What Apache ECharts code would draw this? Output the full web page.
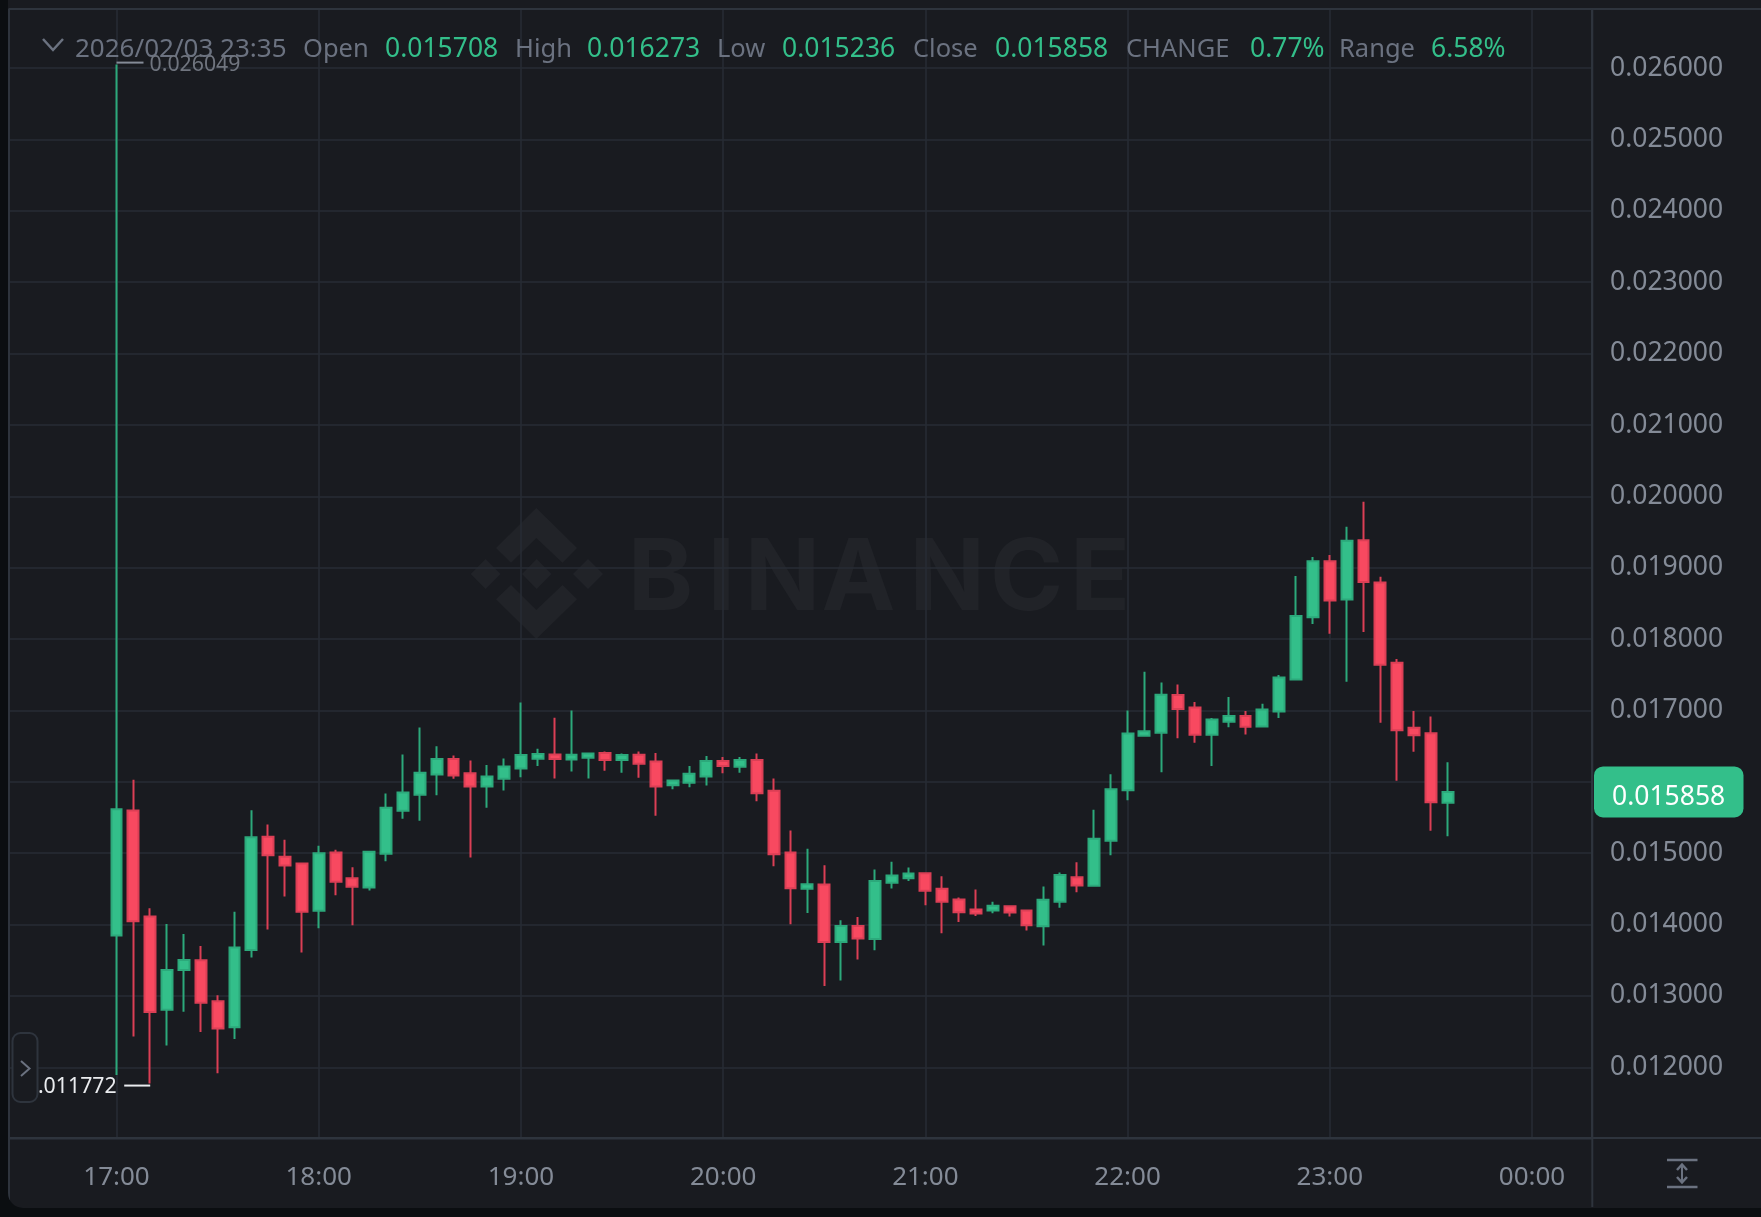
<!DOCTYPE html>
<html><head><meta charset="utf-8">
<style>html,body{margin:0;padding:0;background:#0b0e11}#c{width:1761px;height:1217px}</style>
<script src="https://cdn.jsdelivr.net/npm/echarts@6/dist/echarts.min.js"></script>
</head><body><div id="c"></div>
<script>
var leadIn=['16:30','16:35','16:40','16:45','16:50','16:55'];
var times=['17:00','17:05','17:10','17:15','17:20','17:25','17:30','17:35','17:40','17:45','17:50','17:55',
'18:00','18:05','18:10','18:15','18:20','18:25','18:30','18:35','18:40','18:45','18:50','18:55',
'19:00','19:05','19:10','19:15','19:20','19:25','19:30','19:35','19:40','19:45','19:50','19:55',
'20:00','20:05','20:10','20:15','20:20','20:25','20:30','20:35','20:40','20:45','20:50','20:55',
'21:00','21:05','21:10','21:15','21:20','21:25','21:30','21:35','21:40','21:45','21:50','21:55',
'22:00','22:05','22:10','22:15','22:20','22:25','22:30','22:35','22:40','22:45','22:50','22:55',
'23:00','23:05','23:10','23:15','23:20','23:25','23:30','23:35'];
var leadOut=['23:40','23:45','23:50','23:55','00:00','00:05','00:10','00:15'];
var opens=[.013846,.015598,.014112,.012808,.013364,.0135,.012925,.012561,.013645,.015229,.014949,.014855,.014192,.015009,.01465,.014519,.014991,
.015593,.015818,.016103,.016318,.016121,.015935,.016042,.016187,.016322,.016383,.016313,.016336,.016402,.016304,.016378,.016285,.015953,.015986,.016075,.01629,.01621,.016304,.015874,.015009,.0145,.014561,
.013757,.013981,.013799,.014584,.01465,.01472,.0145,.01435,.01421,.014196,.014257,.014196,.013977,.014318,.014664,.014542,.015173,.015883,
.016645,.016687,.017215,.017042,.016659,.016841,.016921,.016776,.016986,.017435,.018304,.019089,.018556,.019383,.018794,.017668,.016757,.016682,.015708];
var closes=[.015617,.014047,.012776,.013364,.013505,.012906,.012542,.013678,.015224,.014972,.014827,.014178,.015,.014598,.014528,.015019,.015636,
.01585,.016126,.016318,.016089,.015935,.016075,.016215,.016374,.016388,.016318,.016378,.016397,.016304,.016374,.016252,.015935,.016019,.016112,.01629,.01622,.016304,.015841,.014986,.014509,.014565,.013757,
.013981,.013804,.014612,.014687,.014715,.014472,.014318,.014173,.014154,.014262,.014168,.013991,.014346,.014696,.014547,.015201,.015897,.016678,
.01671,.01722,.017019,.016659,.016874,.016921,.016771,.017014,.017463,.018322,.019089,.018542,.019379,.018799,.01764,.016724,.016654,.015715,.015858];
var lows=[.011892,.01243,.011772,.012304,.01278,.012495,.011916,.012397,.013537,.01393,.014392,.013607,.013949,.014411,.013991,.014477,.014888,
.015481,.015453,.015813,.016042,.014939,.015635,.015878,.016065,.01622,.016047,.016145,.016047,.016154,.016126,.016056,.015523,.015897,.015925,.015949,.016121,.016126,.015729,.014818,.014005,.014163,.01314,
.013215,.013509,.01364,.014505,.014612,.014271,.013879,.014037,.014121,.014159,.014112,.013916,.013706,.014234,.014453,.014537,.014972,.015743,
.016636,.016135,.016612,.016547,.01622,.016766,.016664,.016766,.016893,.017425,.01821,.018075,.017402,.018098,.016827,.016014,.016421,.015313,.015236];
var highs=[.026049,.016028,.014229,.014009,.013869,.013701,.013009,.014178,.015603,.015402,.015187,.014864,.015103,.015047,.014804,.015019,.015836,
.016383,.016762,.0165,.016369,.016299,.016234,.016327,.017112,.016463,.016897,.017,.016411,.016425,.016397,.016425,.016402,.016023,.01622,.01636,.016346,.016346,.016397,.016047,.015318,.015061,.014832,
.014061,.014107,.014771,.014879,.014799,.014729,.014678,.014379,.014491,.014318,.014262,.014206,.014533,.014729,.014874,.015607,.016107,.017,
.017542,.017393,.017364,.017117,.016893,.017187,.016991,.017093,.017495,.018883,.01915,.019178,.019575,.019925,.018874,.01772,.016991,.016916,.016273];
var priceTicksMin=0.011, priceTicksMax=0.026828, priceStep=0.001;
var headerDate='2026/02/03 23:35';
var headerFields=[['Open','0.015708',303,385],['High','0.016273',515,587],['Low','0.015236',717,782],['Close','0.015858',913,995],['CHANGE','0.77%',1126,1250],['Range','6.58%',1339,1431]];
var highLabel='0.026049', lowLabel='0.011772', lastPrice='0.015858';
var highValue=0.026049, lowValue=0.011772, lastValue=0.015858;
var watermarkLetters=[['B',632.7],['I',712.6],['N',749.8],['A',826.5],['N',914.6],['C',995],['E',1074.9]];

var UP='#33BF8A',UPB='#2CA97B',DOWN='#F84960',DOWNB='#DB3F55',BG='#191B20',OUT='#0B0E11',GRID='#272D35',FRAME='#2E343D',TXT='#848B97',LBL='#6B7280';
var FONT='"Noto Sans", sans-serif';
var categories=leadIn.concat(times,leadOut);
var isHour=function(i,v){return /:00$/.test(v);};
var chart=echarts.init(document.getElementById('c'),null,{renderer:'canvas',width:1761,height:1217});
var candles=times.map(function(t,i){return [t,opens[i],closes[i],lows[i],highs[i]];});

function txt(x,y,t,color,size,align,z){return {type:'text',x:x,y:y,z:z||50,silent:true,style:{text:t,fill:color,font:(size||26.5)+'px '+FONT,textAlign:align||'left',textVerticalAlign:'middle'}};}
function line(x1,y1,x2,y2,c,w,z){return {type:'line',z:z||40,silent:true,shape:{x1:x1,y1:y1,x2:x2,y2:y2},style:{stroke:c,lineWidth:w||1.5}};}
function poly(pts,fill){return {type:'polygon',z:-1,silent:true,shape:{points:pts},style:{fill:fill}};}

chart.setOption({
 animation:false,backgroundColor:BG,
 grid:{left:6.97,right:1761-1590.98,top:9,bottom:1217-1138.67},
 xAxis:{type:'category',data:categories,boundaryGap:true,
  axisLine:{show:false},
  axisTick:{show:false,alignWithLabel:true,interval:isHour},
  splitLine:{show:true,alignWithLabel:true,interval:isHour,lineStyle:{color:GRID,width:1.5}},
  axisLabel:{interval:isHour,color:TXT,fontSize:26,fontFamily:FONT,margin:25.5,hideOverlap:false}},
 yAxis:{type:'value',position:'right',min:priceTicksMin,max:priceTicksMax,interval:priceStep,offset:1,
  axisLine:{show:true,onZero:false,lineStyle:{color:FRAME,width:2}},axisTick:{show:false},
  splitLine:{show:true,lineStyle:{color:GRID,width:1.5}},
  axisLabel:{color:TXT,fontSize:26.5,fontFamily:FONT,margin:18,showMinLabel:false,showMaxLabel:false,padding:[0,0,7,0],
   formatter:function(v){return v.toFixed(6);}}},
 series:[{type:'candlestick',data:candles,encode:{x:0,y:[1,2,3,4]},barWidth:11.4,clip:true,
  itemStyle:{color:UP,color0:DOWN,borderColor:UPB,borderColor0:DOWNB,borderWidth:2}}]
});

function px(t,v){return chart.convertToPixel({gridIndex:0},[t,v]);}
var hi=px('17:00',highValue), lo=px('17:10',lowValue), la=px('23:35',lastValue);
var g=[];
// watermark
var wm='#212328';
g.push(poly([[470.7,574],[485.6,559],[500.5,574],[485.6,589]],wm),poly([[522,574],[536.7,559],[551.5,574],[536.7,589]],wm),poly([[573,574],[588,559],[603,574],[588,589]],wm));
g.push(poly([[536.3,508],[577,548],[562.5,562.7],[536.3,538],[511,562.7],[496,548]],wm));
g.push(poly([[536.3,639],[577,599.3],[562.5,585],[536.3,610],[511,585],[496,599.3]],wm));
watermarkLetters.forEach(function(l){
 g.push({type:'text',x:l[1]-5,y:580,z:-1,silent:true,style:{text:l[0],fill:wm,font:'bold 99px Inter, "Noto Sans", sans-serif',textAlign:'left',textVerticalAlign:'middle'}});
});
// outer frame
g.push(line(9,9,1761,9,FRAME,2,61),line(9,9,9,1200,FRAME,2,61),line(9,1138,1761,1138,FRAME,2,61),line(1592.3,9,1592.3,1207,FRAME,2,61));
g.push({type:'rect',z:62,silent:true,shape:{x:-4,y:-40,width:1790,height:1260,r:27},style:{fill:null,stroke:OUT,lineWidth:24}});
// header
g.push({type:'polyline',z:50,silent:true,shape:{points:[[43,39],[53,50],[63,39]]},style:{stroke:LBL,lineWidth:2.5,fill:null}});
g.push(txt(75,49.5,headerDate,LBL,26));
headerFields.forEach(function(f){g.push(txt(f[2],49.5,f[0],LBL,25.5),txt(f[3],49.5,f[1],UP,26.5));});
// high/low annotations
g.push(line(hi[0],hi[1]-2,hi[0]+27,hi[1]-2,'#848B97',2));
g.push(txt(hi[0]+33,hi[1],highLabel,'#70757F',21.3));
g.push(line(lo[0]-26,lo[1]+2,lo[0],lo[1]+2,'#EAECEF',2));
g.push(txt(lo[0]-33.5,lo[1]+3,lowLabel,'#EAECEF',21.3,'right'));
// side button
g.push({type:'rect',z:55,silent:true,shape:{x:12.5,y:1033,width:25,height:69,r:8},style:{fill:BG,stroke:FRAME,lineWidth:2}});
g.push({type:'polyline',z:56,silent:true,shape:{points:[[21,1061],[29.5,1068.5],[21,1076]]},style:{stroke:LBL,lineWidth:2,fill:null}});
// last price tag
g.push({type:'rect',z:55,silent:true,shape:{x:1594,y:la[1]-25.5,width:149.5,height:51,r:9},style:{fill:UP}});
g.push(txt(1612,la[1]+6,lastPrice,'#FFFFFF',26.5,'left',57));
// expand icon
g.push(line(1667,1160,1697.5,1160,LBL,2.5),line(1667,1187,1697.5,1187,LBL,2.5),line(1682,1164,1682,1183,LBL,2));
g.push({type:'polyline',z:50,silent:true,shape:{points:[[1677,1170],[1682,1164.5],[1687,1170]]},style:{stroke:LBL,lineWidth:2.5,fill:null}});
g.push({type:'polyline',z:50,silent:true,shape:{points:[[1677,1177],[1682,1182.5],[1687,1177]]},style:{stroke:LBL,lineWidth:2.5,fill:null}});
chart.setOption({graphic:{elements:g}});
</script></body></html>
